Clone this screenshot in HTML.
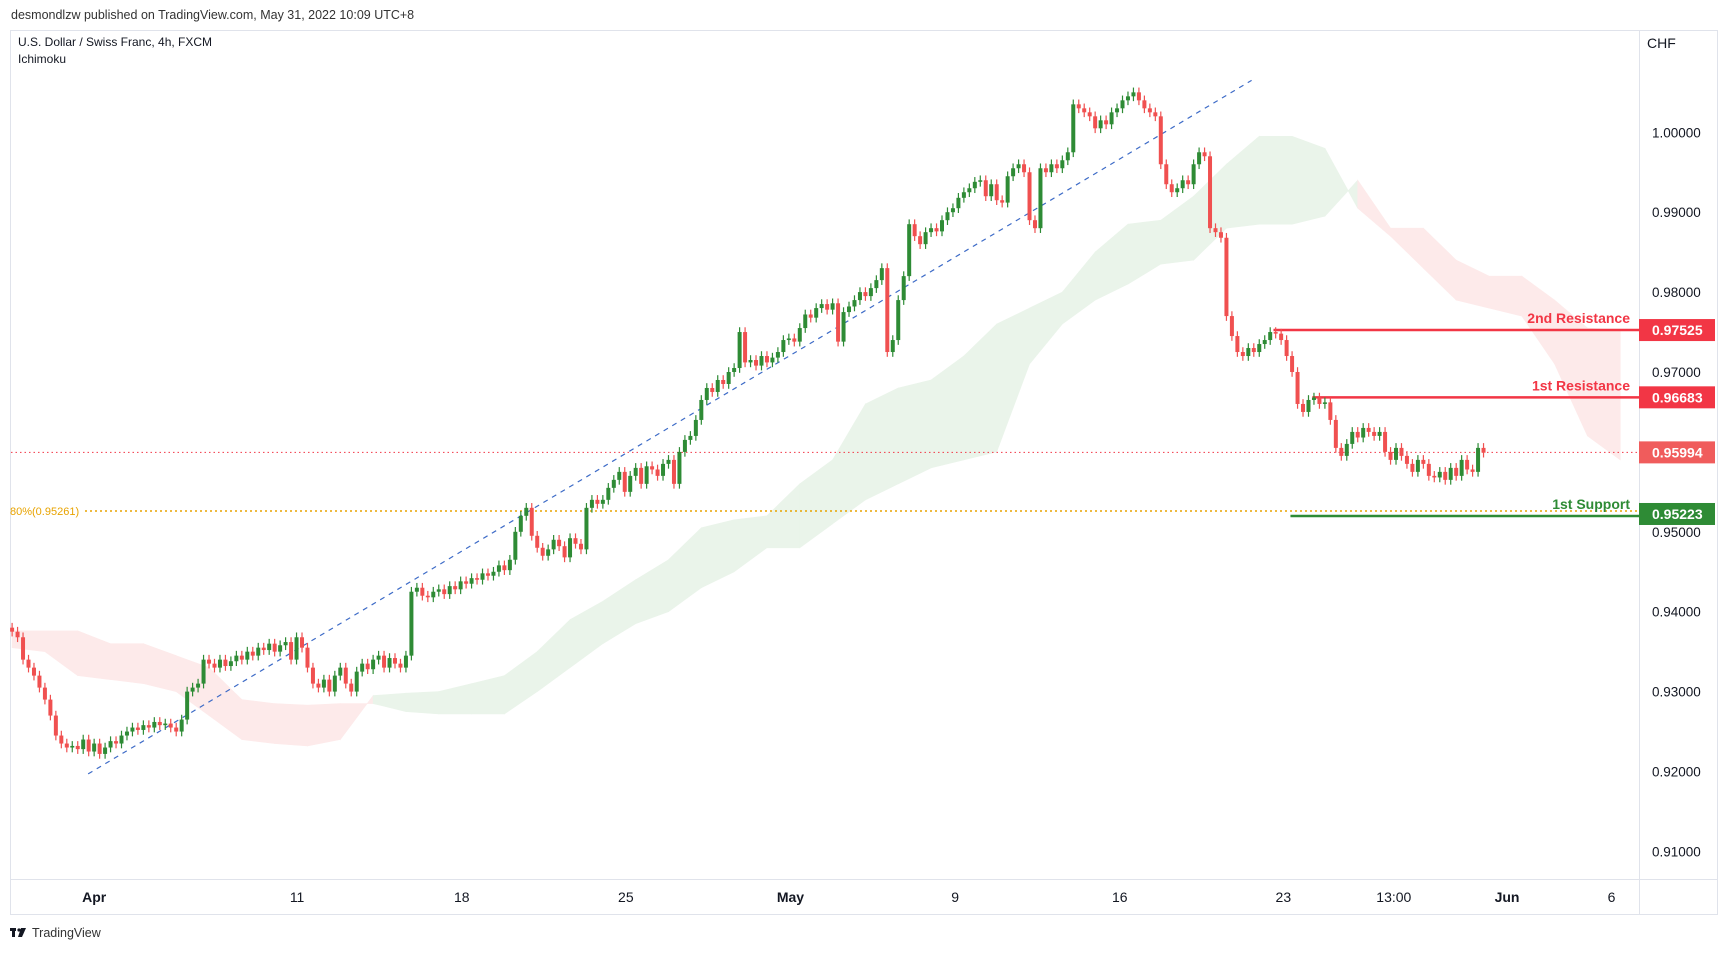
<!DOCTYPE html>
<html><head><meta charset="utf-8">
<style>
html,body{margin:0;padding:0;background:#fff;}
body{width:1729px;height:950px;overflow:hidden;font-family:"Liberation Sans",sans-serif;}
svg text{font-family:"Liberation Sans",sans-serif;}
</style></head>
<body>
<svg id="chart" width="1729" height="950" viewBox="0 0 1729 950" xmlns="http://www.w3.org/2000/svg">
<text x="11" y="19" font-size="12.5" fill="#333">desmondlzw published on TradingView.com, May 31, 2022 10:09 UTC+8</text>
<rect x="10.5" y="30.5" width="1707" height="884" fill="none" stroke="#e0e3eb"/>
<line x1="1639.5" y1="31" x2="1639.5" y2="914" stroke="#e0e3eb"/>
<line x1="11" y1="879.5" x2="1717" y2="879.5" stroke="#e0e3eb"/>
<g id="cloud"></g>
<g id="lines"></g>
<g id="candles"></g>
<g id="axis"></g>
<text x="18" y="46" font-size="12" fill="#131722">U.S. Dollar / Swiss Franc, 4h, FXCM</text>
<text x="18" y="63" font-size="12" fill="#131722">Ichimoku</text>
<text x="1647" y="48" font-size="14" fill="#131722">CHF</text>
<g>
<rect x="10" y="928" width="6" height="3" fill="#131722"/><rect x="12" y="928" width="3" height="9" fill="#131722"/>
<circle cx="19" cy="930" r="1.6" fill="#131722"/><path d="M21 928 L26 928 L22 937 L18 937 Z" fill="#131722"/>
<text x="32" y="937" font-size="12.5" fill="#333">TradingView</text>
</g>
</svg>
<script>
const closes=[
0.9375,0.9368,0.9340,0.9330,0.9320,0.9305,0.9290,0.9270,0.9245,0.9235,
0.9230,0.9232,0.9228,0.9240,0.9225,0.9235,0.9222,0.9230,0.9238,0.9235,
0.9245,0.9250,0.9255,0.9252,0.9258,0.9255,0.9262,0.9258,0.9260,0.9255,
0.9250,0.9265,0.9300,0.9305,0.9310,0.9340,0.9335,0.9330,0.9340,0.9332,
0.9338,0.9345,0.9340,0.9350,0.9345,0.9355,0.9352,0.9360,0.9350,0.9358,
0.9362,0.9340,0.9368,0.9355,0.9330,0.9310,0.9305,0.9315,0.9300,0.9320,
0.9330,0.9310,0.9300,0.9325,0.9335,0.9328,0.9340,0.9345,0.9330,0.9342,
0.9335,0.9330,0.9345,0.9425,0.9430,0.9420,0.9418,0.9425,0.9428,0.9422,
0.9432,0.9428,0.9438,0.9435,0.9442,0.9440,0.9448,0.9445,0.9450,0.9458,
0.9452,0.9465,0.9500,0.9520,0.9530,0.9495,0.9480,0.9470,0.9478,0.9490,
0.9482,0.9468,0.9492,0.9485,0.9478,0.9530,0.9540,0.9535,0.9540,0.9555,
0.9565,0.9575,0.9550,0.9570,0.9580,0.9560,0.9582,0.9578,0.9570,0.9585,
0.9590,0.9560,0.9600,0.9615,0.9620,0.9640,0.9665,0.9680,0.9675,0.9690,
0.9685,0.9700,0.9705,0.9750,0.9712,0.9715,0.9708,0.9720,0.9712,0.9718,
0.9725,0.9740,0.9742,0.9738,0.9755,0.9772,0.9768,0.9780,0.9785,0.9778,
0.9786,0.9738,0.9775,0.9782,0.9790,0.9800,0.9795,0.9805,0.9815,0.9830,
0.9725,0.9740,0.9790,0.9820,0.9885,0.9870,0.9860,0.9875,0.9880,0.9876,
0.9890,0.9900,0.9905,0.9918,0.9925,0.9930,0.9938,0.9940,0.9920,0.9935,
0.9915,0.9912,0.9945,0.9955,0.9960,0.9950,0.9890,0.9880,0.9955,0.9950,
0.9960,0.9955,0.9965,0.9975,1.0035,1.0030,1.0025,1.0020,1.0005,1.0015,
1.0010,1.0025,1.0030,1.0040,1.0045,1.0050,1.0040,1.0030,1.0025,1.0020,
0.9960,0.9935,0.9925,0.9930,0.9940,0.9935,0.9960,0.9975,0.9970,0.9880,
0.9875,0.9868,0.9770,0.9745,0.9725,0.9720,0.9730,0.9725,0.9735,0.9740,
0.9750,0.9748,0.9740,0.9720,0.9700,0.9660,0.9650,0.9665,0.9668,0.9660,
0.9662,0.9640,0.9605,0.9595,0.9610,0.9625,0.9618,0.9630,0.9625,0.9620,
0.9625,0.9600,0.9590,0.9605,0.9595,0.9585,0.9575,0.9590,0.9585,0.9570,
0.9568,0.9575,0.9565,0.9580,0.9570,0.9590,0.9578,0.9575,0.9605,0.9599];
const spanA=[0.9355,0.9350,0.9320,0.9315,0.9310,0.9300,0.9270,0.9240,0.9235,0.9232,0.9240,0.9295,0.9298,0.9300,0.9310,0.9320,0.9350,0.9390,0.9413,0.9440,0.9465,0.9505,0.9515,0.9520,0.9560,0.9590,0.9660,0.9680,0.9690,0.9720,0.9760,0.9780,0.9800,0.9850,0.9885,0.9890,0.9920,0.9960,0.9995,0.9995,0.9980,0.9905,0.9870,0.9830,0.9790,0.9780,0.9770,0.9710,0.9620,0.9590];
const spanB=[0.9376,0.9376,0.9376,0.9360,0.9360,0.9345,0.9330,0.9290,0.9285,0.9283,0.9285,0.9285,0.9275,0.9272,0.9272,0.9272,0.9300,0.9330,0.9360,0.9385,0.9400,0.9430,0.9450,0.9480,0.9480,0.9510,0.9540,0.9560,0.9580,0.9590,0.9600,0.9710,0.9760,0.9790,0.9810,0.9835,0.9840,0.9880,0.9885,0.9885,0.9895,0.9940,0.9880,0.9880,0.9840,0.9820,0.9820,0.9790,0.9755,0.9752];
const priceTicks=[1.00,0.99,0.98,0.97,0.96,0.95,0.94,0.93,0.92,0.91];
const timeLabels=["Apr","11","18","25","May","9","16","23","13:00","Jun","6"];
const timeLabelBars=[15.0,52.1,82.2,112.2,142.3,172.4,202.5,232.4,252.6,273.3,292.4];
const trendPts=[[13.9,0.9197],[226.6,1.0065]];
const levels=[{name:"2nd Resistance",price:0.97525,startBar:230.6,color:"#f23645"},{name:"1st Resistance",price:0.96683,startBar:237.7,color:"#f23645"}];
const support={name:"1st Support",price:0.95223,startBar:233.7};
const fibPrice=0.95261, lastPrice=0.95994;

const NS="http://www.w3.org/2000/svg";
const X=i=>12.1+i*5.47;
const Y=p=>132.3+(1-p)*7990;
function mk(tag,attrs,parent){const e=document.createElementNS(NS,tag);for(const k in attrs)e.setAttribute(k,attrs[k]);parent.appendChild(e);return e;}
const cloud=document.getElementById('cloud'),lines=document.getElementById('lines'),cg=document.getElementById('candles'),ax=document.getElementById('axis');
// cloud
for(let d=0;d<spanA.length-1;d++){
  const x1=X(d*6),x2=X((d+1)*6);
  const up=(spanA[d]+spanA[d+1])>=(spanB[d]+spanB[d+1]);
  const poly=mk('polygon',{points:`${x1},${Y(spanA[d])} ${x2},${Y(spanA[d+1])} ${x2},${Y(spanB[d+1])} ${x1},${Y(spanB[d])}`,fill:up?'#eaf4ea':'#fdeaea',stroke:up?'#eaf4ea':'#fdeaea','stroke-width':0.6},cloud);
  
  
}
// trendline
const tl=mk('line',{x1:X(trendPts[0][0]),y1:Y(trendPts[0][1]),x2:X(trendPts[1][0]),y2:Y(trendPts[1][1]),stroke:'#3d6bc7','stroke-width':1.2,'stroke-dasharray':'5,5'},lines);


// fib
const fl=mk('line',{x1:85,y1:Y(fibPrice),x2:1639,y2:Y(fibPrice),stroke:'#e8a300','stroke-width':1.5,'stroke-dasharray':'2,3'},lines);


const ft=mk('text',{x:10,y:Y(fibPrice)+4,'font-size':11,fill:'#e8a300'},lines);ft.textContent='80%('+fibPrice.toFixed(5)+')';


// last price line
const lp=mk('line',{x1:11,y1:Y(lastPrice),x2:1639,y2:Y(lastPrice),stroke:'#f23645','stroke-width':1,'stroke-dasharray':'1.5,3'},lines);


// candles
for(let i=0;i<closes.length;i++){
  const c=closes[i],o=i?closes[i-1]:c+0.0005;
  const hi=Math.max(o,c)+0.0006,lo=Math.min(o,c)-0.0006;
  const col=c>=o?'#2e8b35':'#f05050';
  const g=mk('g',{},cg);
  
  
  mk('line',{x1:X(i),x2:X(i),y1:Y(hi),y2:Y(lo),stroke:col,'stroke-width':1.2},g);
  const yt=Y(Math.max(o,c)),yb=Y(Math.min(o,c));
  mk('rect',{x:X(i)-2,y:yt,width:4,height:Math.max(1,yb-yt),fill:col},g);
}
// levels
levels.forEach(l=>{
  const ln=mk('line',{x1:X(l.startBar),y1:Y(l.price),x2:1639,y2:Y(l.price),stroke:l.color,'stroke-width':2.5},lines);
  
  
  const t=mk('text',{x:1630,y:Y(l.price)-7,'text-anchor':'end','font-size':14,'font-weight':'bold',fill:l.color},lines);t.textContent=l.name;
  
  
});
const sl=mk('line',{x1:X(support.startBar),y1:Y(support.price)+2,x2:1639,y2:Y(support.price)+2,stroke:'#2e8b35','stroke-width':2.5},lines);


const st=mk('text',{x:1630,y:Y(support.price)-5,'text-anchor':'end','font-size':14,'font-weight':'bold',fill:'#2e8b35'},lines);st.textContent=support.name;


// price ticks
priceTicks.forEach(p=>{
  const t=mk('text',{x:1652,y:Y(p)+5,'font-size':13.5,fill:'#131722'},ax);t.textContent=p.toFixed(5);
  
  
});
// tags
[[levels[0].price,'#f23645'],[levels[1].price,'#f23645'],[lastPrice,'#f05c5c'],[support.price,'#2e8b35']].forEach(([p,c])=>{
  const g=mk('g',{},ax);
  
  
  mk('rect',{x:1639,y:Y(p)-11,width:76,height:22,fill:c},g);
  const t=mk('text',{x:1652,y:Y(p)+5,'font-size':14,'font-weight':'bold',fill:'#fff'},g);t.textContent=p.toFixed(5);
});
// time labels
timeLabels.forEach((s,k)=>{
  const t=mk('text',{x:X(timeLabelBars[k]),y:902,'text-anchor':'middle','font-size':14,fill:'#131722','font-weight':(s==='Apr'||s==='May'||s==='Jun')?'bold':'normal'},ax);t.textContent=s;
  
  
});
</script>
</body></html>
